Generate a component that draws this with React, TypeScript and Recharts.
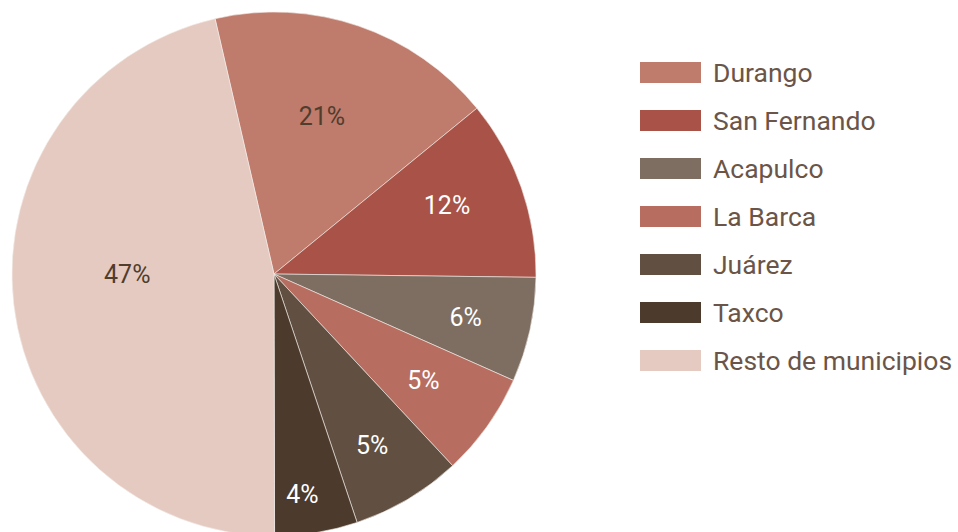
import React from "react";
import { PieChart, Pie, Cell, Legend } from "recharts";

const categories = ["Durango", "San Fernando", "Acapulco", "La Barca", "Juárez", "Taxco", "Resto de municipios"];
const shares = [17.7, 11.1, 6.45, 6.4, 6.8, 5.1, 46.4];
const shareLabels = ["21%", "12%", "6%", "5%", "5%", "4%", "47%"];

const COLORS = ["#bf7b6c", "#a85248", "#7e6e62", "#b76e61", "#614f42", "#4c3b2c", "#e5cac1"];
const LABEL_COLORS = ["#4f3d2e", "#ffffff", "#ffffff", "#ffffff", "#ffffff", "#ffffff", "#4f3d2e"];
const LABEL_RADIUS = [0.63, 0.71, 0.75, 0.70, 0.755, 0.85, 0.56];
// clockwise angular shift (degrees) of each label from its slice's mid angle
const LABEL_SHIFT = [-2, -2.3, 0.5, 0, 1, 2, 6.5];

const data = categories.map((name, i) => ({ name, value: shares[i], label: shareLabels[i] }));

const RAD = Math.PI / 180;

const renderLabel = (props: any) => {
  const { cx, cy, midAngle, outerRadius, index } = props;
  const r = outerRadius * LABEL_RADIUS[index];
  const a = midAngle - LABEL_SHIFT[index];
  const x = cx + r * Math.cos(-a * RAD);
  const y = cy + r * Math.sin(-a * RAD);
  return (
    <text
      x={x}
      y={y}
      fill={LABEL_COLORS[index]}
      textAnchor="middle"
      dominantBaseline="central"
      fontFamily="Roboto, sans-serif"
      fontSize={25}
    >
      {shareLabels[index]}
    </text>
  );
};

const renderLegend = () => (
  <div style={{ fontFamily: "Roboto, sans-serif" }}>
    {categories.map((c, i) => (
      <div key={c} style={{ display: "flex", alignItems: "center", height: 48 }}>
        <div style={{ width: 61, height: 21, background: COLORS[i], marginRight: 12, flexShrink: 0 }} />
        <span style={{ fontSize: 26.5, color: "#6b5548", whiteSpace: "nowrap" }}>{c}</span>
      </div>
    ))}
  </div>
);

export default function App() {
  return (
    <div style={{ position: "absolute", left: 0, top: 0, width: 958, height: 532, overflow: "hidden" }}>
      <PieChart width={958} height={532} margin={{ top: 0, right: 0, bottom: 0, left: 0 }}>
        <Pie
          data={data}
          dataKey="value"
          nameKey="name"
          cx={274}
          cy={274}
          outerRadius={262}
          startAngle={103}
          endAngle={-257}
          stroke="#f4eeea"
          strokeWidth={0.6}
          label={renderLabel}
          labelLine={false}
          isAnimationActive={false}
        >
          {data.map((d, i) => (
            <Cell key={d.name} fill={COLORS[i]} />
          ))}
        </Pie>
        <Legend
          content={renderLegend}
          layout="vertical"
          wrapperStyle={{ position: "absolute", left: 640, top: 48, width: 318 }}
        />
      </PieChart>
    </div>
  );
}
